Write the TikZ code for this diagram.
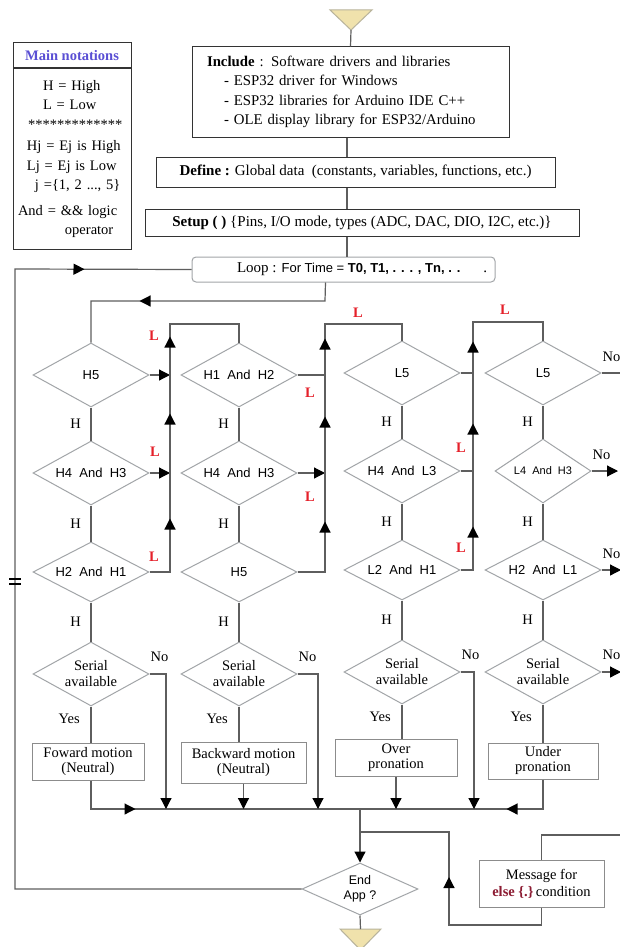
\documentclass[tikz,border=0pt]{standalone}
\usepackage{fontspec}
\setmainfont{Liberation Serif}
\newfontfamily\arial{Liberation Sans}
\newfontfamily\romannote{Liberation Serif}
\usetikzlibrary{arrows.meta,calc,decorations.markings,positioning,shapes.geometric}
\definecolor{FlowGray}{HTML}{5E5E5E}
\definecolor{EdgeGray}{HTML}{A2A5A8}
\definecolor{BoxGray}{HTML}{333333}
\definecolor{ActGray}{HTML}{8C8C8C}
\definecolor{SignalRed}{HTML}{E5202A}
\definecolor{NoteBlue}{HTML}{5A4FD4}
\definecolor{Sand}{HTML}{F0E2AC}
\definecolor{SandEdge}{HTML}{B8B39B}
\definecolor{Wine}{HTML}{8C1B32}
\tikzset{
  flow/.style={draw=FlowGray,line width=1.2pt},
  endtip/.style={-{Triangle[length=11pt,width=11pt,color=black]}},
  headat/.style={postaction={decorate,decoration={markings,
      mark=at position #1 with {\arrow{Triangle[length=11pt,width=11pt,color=black]}}}}},
  mainbox/.style={draw=BoxGray,line width=1pt,inner sep=0pt},
  actbox/.style={draw=ActGray,line width=1pt,inner sep=0pt,align=center,font=\romannote\fontsize{14.5}{15}\selectfont},
  decbase/.style={diamond,draw=EdgeGray,line width=1pt,inner sep=0pt,aspect=1.8,
      minimum width=116pt,minimum height=64pt,align=center},
  dec/.style={decbase,font=\arial\fontsize{13}{14}\selectfont},
  serial/.style={decbase,font=\romannote\fontsize{14.5}{16}\selectfont},
  lbl/.style={font=\romannote\fontsize{14.5}{15}\selectfont,inner sep=0pt},
  lo/.style={inner sep=0pt,text=SignalRed,font=\romannote\bfseries\fontsize{14.5}{15}\selectfont},
  sand/.style={fill=Sand,draw=SandEdge,line width=1pt}
}
\begin{document}
\begin{tikzpicture}[x=1pt,y=-1pt,font=\romannote\fontsize{15}{16}\selectfont]
\fill[white] (0,0) rectangle (619,947);
\useasboundingbox (0,0) rectangle (619,947);

% start and stop terminals
\filldraw[sand] (330,10) -- (372,10) -- (351,30) -- cycle;
\coordinate (start) at (351,30);
\filldraw[sand] (340,929) -- (381,929) -- (360.5,950) -- cycle;
\coordinate (stop) at (360.5,929);

% notations
\node[mainbox,minimum width=118pt,minimum height=25pt,text=NoteBlue,font=\romannote\bfseries\fontsize{14.5}{16}\selectfont] (nhead) at (72,55.5) {Main notations};
\node[mainbox,minimum width=118pt,minimum height=180pt,below=0pt of nhead,align=left,text width=108pt,font=\romannote\fontsize{14.5}{19.5}\selectfont] (nbody)
  {\hspace*{25pt}H = High\\
   \hspace*{25pt}L = Low\\
   \hspace*{10pt}*************\\[2pt]
   \hspace*{9pt}Hj = Ej is High\\
   \hspace*{9pt}Lj = Ej is Low\\
   \hspace*{17pt}j =\{1, 2 ..., 5\}\\[6pt]
   And = \&\& logic\\
   \hspace*{47pt}operator};

% setup chain
\node[mainbox,minimum width=317pt,minimum height=90pt,text width=287pt,align=left,font=\romannote\fontsize{14.8}{19.3}\selectfont] (inc) at (350.5,92)
  {\textbf{Include} : Software drivers and libraries\\
   \hspace*{17pt}- ESP32 driver for Windows\\
   \hspace*{17pt}- ESP32 libraries for Arduino IDE C++\\
   \hspace*{17pt}- OLE display library for ESP32/Arduino};
\node[mainbox,minimum width=399pt,minimum height=30pt] (def) at (355.5,172)
  {\textbf{Define :} Global data~ (constants, variables, functions, etc.)};
\node[mainbox,minimum width=434pt,minimum height=27pt] (setup) at (362,222.5)
  {\textbf{Setup ( )} \{Pins, I/O mode, types (ADC, DAC, DIO, I2C, etc.)\}};
\node[mainbox,draw=EdgeGray,rounded corners=4pt,minimum width=303pt,minimum height=25pt] (loop) at (343.5,269.5)
  {\makebox[287pt][l]{\hspace*{37pt}Loop : {\arial\fontsize{13}{14}\selectfont For Time = \textbf{T0, T1, . . . , Tn, . .}}\hfill.}};
\coordinate (sp) at (347,0);
\draw[flow] (start) -- (inc.north);
\draw[flow] (sp |- inc.south) -- (sp |- def.north);
\draw[flow] (sp |- def.south) -- (sp |- setup.north);
\draw[flow] (sp |- setup.south) -- (sp |- loop.north);

% decision columns
\foreach \k/\x/\y/\wb/\ta/\tb/\tc in {1/91/375/116/H5/{H4~ And~ H3}/{H2~ And~ H1},
    2/239/375/116/{H1~ And~ H2}/{H4~ And~ H3}/H5,
    3/402/373/116/L5/{H4~ And~ L3}/{L2~ And~ H1},
    4/543/373/96/L5/{\fontsize{11}{12}\selectfont L4~ And~ H3}/{H2~ And~ L1}}{
  \node[dec] (c\k r1) at (\x,\y) {\ta};
  \node[dec,minimum width=\wb pt] (c\k r2) at (\x,\y+98) {\tb};
  \node[dec,minimum height=60pt] (c\k r3) at (\x,\y+197) {\tc};
  \node[serial] (c\k r4) at (\x,\y+299) {Serial\\available};
  \draw[flow] (c\k r1.south) -- (c\k r2.north) (c\k r2.south) -- (c\k r3.north) (c\k r3.south) -- (c\k r4.north);
  \node[lbl,anchor=east] (h\k a) at ($(c\k r1.south)!.5!(c\k r2.north)+(-10,0)$) {H};
  \node[lbl,anchor=east] (h\k b) at ($(c\k r2.south)!.5!(c\k r3.north)+(-10,0)$) {H};
  \node[lbl,anchor=east] (h\k c) at ($(c\k r3.south)!.5!(c\k r4.north)+(-10,0)$) {H};
  \node[lbl,anchor=east] (yes\k) at ($(c\k r4.south)+(-11,12)$) {Yes};
  \node[lbl,anchor=south west] (no\k) at ($(c\k r4.east)+(1,-12)$) {No};
}
\foreach \r in {1,2,3}
  \node[lbl,anchor=south west] (nor\r) at ($(c4r\r.east)+(1,-11)$) {No};
\foreach \x/\y [count=\i] in {154/336,155/452,154/557,310/393,310/497,358/313,461/448,461/548,505/310}
  \node[lo] (ell\i) at (\x,\y) {L};

% low branches to the next column
\coordinate (b1) at (170,324);
\coordinate (b2) at (325,324);
\coordinate (b3) at (473,322);
\draw[flow,endtip] (c1r1.east) -- (c1r1.east -| b1);
\draw[flow,endtip] (c1r2.east) -- (c1r2.east -| b1);
\draw[flow,headat=74pt,headat=179pt,headat=256pt] (c1r3.east) -| (b1) -| (c2r1.north);
\draw[flow] (c2r1.east) -- (c2r1.east -| b2);
\draw[flow,endtip] (c2r2.east) -- (c2r2.east -| b2);
\draw[flow,headat=78pt,headat=183pt,headat=261pt] (c2r3.east) -| (b2) -| (c3r1.north);
\draw[flow] (c3r1.east) -- (c3r1.east -| b3);
\draw[flow] (c3r2.east) -- (c3r2.east -| b3);
\draw[flow,headat=56pt,headat=159pt,headat=241pt] (c3r3.east) -| (b3) -| (c4r1.north);
\coordinate (oe) at (621,0);
\draw[flow] (c4r1.east) -- (c4r1.east -| oe);
\draw[flow,endtip] (c4r2.east) -- ([xshift=-3pt]c4r2.east -| oe);
\draw[flow,endtip] (c4r3.east) -- (c4r3.east -| oe);
\draw[flow,endtip] (c4r4.east) -- (c4r4.east -| oe);

% loop entry
\coordinate (lr) at (325,301);
\draw[flow,headat=204pt] ([xshift=-18pt]loop.south) -- (lr) -| (c1r1.north);

% actions
\node[actbox,minimum width=112pt,minimum height=37pt] (fwd) at (88,761.5) {Foward motion\\(Neutral)};
\node[actbox,minimum width=125pt,minimum height=41pt] (bwd) at (243.5,762.5) {Backward motion\\(Neutral)};
\node[actbox,minimum width=122pt,minimum height=37pt] (over) at (396,757.5) {Over\\pronation};
\node[actbox,minimum width=110pt,minimum height=36pt] (und) at (543,761) {Under\\pronation};
\node[actbox,minimum width=125pt,minimum height=47pt] (msg) at (541.5,883.5) {Message for\\[2pt]\textcolor{Wine}{\textbf{else \{.\}}}\,condition};
\foreach \k/\a in {1/fwd,2/bwd,3/over,4/und}
  \draw[flow] (c\k r4.south) -- (c\k r4.south |- \a.north);

% merge and end
\coordinate (mj) at (360,809);
\coordinate (n1) at (166,809);
\coordinate (n2) at (318,809);
\coordinate (n3) at (474,809);
\draw[flow,headat=73pt] (c1r4.south |- fwd.south) |- (mj);
\draw[flow,headat=66pt] (und.south) |- (mj);
\draw[flow,endtip] (bwd.south) -- (bwd.south |- mj);
\draw[flow,endtip] (over.south) -- (over.south |- mj);
\draw[flow,endtip] (c1r4.east) -| (n1);
\draw[flow,endtip] (c2r4.east) -| (n2);
\draw[flow,endtip] (c3r4.east) -| (n3);
\node[dec,minimum height=52pt,font=\arial\fontsize{12.5}{15}\selectfont] (endapp) at (360,889) {End\\App ?};
\draw[flow,endtip] (mj) -- (endapp.north);
\draw[flow] (endapp.south) -- (stop);

% else message
\coordinate (r1) at (449,925);
\coordinate (mj2) at (360,832);
\coordinate (mo) at (621,835);
\draw[flow,headat=158pt] (msg.south) |- (r1) |- (mj2);
\draw[flow] (msg.north) |- (mo);

% back to loop
\coordinate (lc) at (15,269);
\draw[flow,headat=976pt] (endapp.west) -| (lc) -- (loop.west);
\draw[black,line width=1.2pt] (9,579) -- (21,579) (9,584) -- (21,584);
\end{tikzpicture}
\end{document}
